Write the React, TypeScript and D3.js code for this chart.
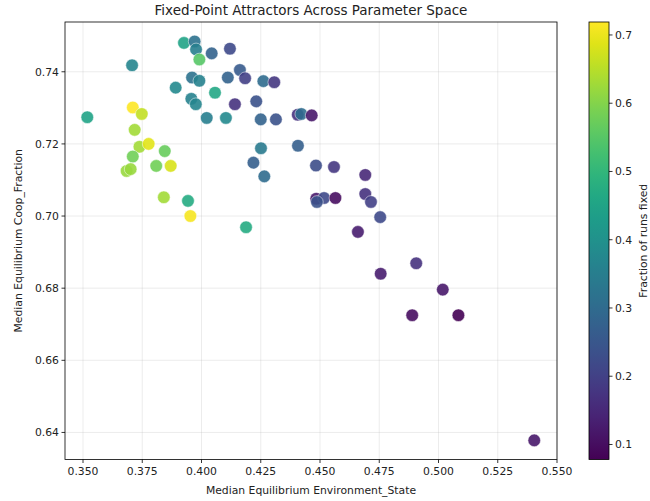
import React from "react";
import * as d3 from "d3";

// median equilibrium environment state (x)
const envState = [
  0.3926, 0.3971, 0.3977, 0.4043, 0.4120, 0.3991, 0.3707, 0.4162, 0.4184, 0.3960,
  0.3991, 0.4111, 0.4261, 0.4307, 0.3891, 0.4057, 0.3957, 0.3976, 0.4141, 0.4231,
  0.4022, 0.4103, 0.4250, 0.4314, 0.4406, 0.4421, 0.4465, 0.3518, 0.3710, 0.3748,
  0.3718, 0.3738, 0.3777, 0.3845, 0.3710, 0.3684, 0.3701, 0.3809, 0.3870, 0.3841,
  0.3943, 0.3953, 0.4188, 0.4251, 0.4407, 0.4219, 0.4265, 0.4483, 0.4559, 0.4691,
  0.4484, 0.4517, 0.4565, 0.4487, 0.4691, 0.4715, 0.4754, 0.4660, 0.4906, 0.4756,
  0.5018, 0.4889, 0.5084, 0.5404,
];

// median equilibrium coop fraction (y)
const coopFraction = [
  0.7480, 0.7484, 0.7462, 0.7451, 0.7464, 0.7434, 0.7418, 0.7405, 0.7382, 0.7384,
  0.7375, 0.7384, 0.7374, 0.7371, 0.7356, 0.7342, 0.7325, 0.7310, 0.7310, 0.7318,
  0.7272, 0.7272, 0.7268, 0.7268, 0.7281, 0.7283, 0.7279, 0.7274, 0.7301, 0.7283,
  0.7239, 0.7192, 0.7200, 0.7180, 0.7165, 0.7125, 0.7130, 0.7139, 0.7139, 0.7052,
  0.7042, 0.7000, 0.6969, 0.7188, 0.7195, 0.7148, 0.7110, 0.7140, 0.7136, 0.7114,
  0.7048, 0.7050, 0.7050, 0.7039, 0.7061, 0.7039, 0.6997, 0.6956, 0.6869, 0.6840,
  0.6796, 0.6725, 0.6725, 0.6378,
];

// fraction of runs that reached a fixed point (colour)
const fractionFixed = [
  0.45, 0.32, 0.35, 0.28, 0.22, 0.55, 0.37, 0.26, 0.20, 0.32,
  0.36, 0.28, 0.30, 0.18, 0.38, 0.46, 0.36, 0.37, 0.17, 0.24,
  0.35, 0.38, 0.28, 0.24, 0.17, 0.30, 0.12, 0.45, 0.719, 0.66,
  0.63, 0.63, 0.69, 0.57, 0.58, 0.62, 0.62, 0.58, 0.68, 0.63,
  0.47, 0.71, 0.47, 0.34, 0.27, 0.27, 0.30, 0.23, 0.18, 0.15,
  0.12, 0.22, 0.10, 0.24, 0.17, 0.20, 0.22, 0.13, 0.17, 0.13,
  0.12, 0.10, 0.078, 0.12,
];

const xTicks = [0.35, 0.375, 0.4, 0.425, 0.45, 0.475, 0.5, 0.525, 0.55];
const yTicks = [0.64, 0.66, 0.68, 0.7, 0.72, 0.74];
const cTicks = [0.1, 0.2, 0.3, 0.4, 0.5, 0.6, 0.7];

const W = 650;
const H = 501;
const plot = { left: 65, right: 557, top: 22, bottom: 459.5 };
const bar = { left: 589, right: 609 };
const font = "'DejaVu Sans', sans-serif";

export default function App() {
  const x = d3.scaleLinear().domain([0.3424, 0.55]).range([plot.left, plot.right]);
  const y = d3.scaleLinear().domain([0.6325, 0.7538]).range([plot.bottom, plot.top]);
  const cmin = d3.min(fractionFixed) as number;
  const cmax = d3.max(fractionFixed) as number;
  const color = d3.scaleSequential(d3.interpolateViridis).domain([cmin, cmax]);
  const cy = d3.scaleLinear().domain([cmin, cmax]).range([plot.bottom, plot.top]);

  const points = envState.map((v, i) => ({ x: v, y: coopFraction[i], c: fractionFixed[i] }));
  const stops = d3.range(0, 1.0001, 0.05);
  const midX = (plot.left + plot.right) / 2;
  const midY = (plot.top + plot.bottom) / 2;

  return (
    <svg width={W} height={H} style={{ position: "absolute", left: 0, top: 0, background: "white" }}
      fontFamily={font}>
      <defs>
        <linearGradient id="viridis" x1="0" y1="1" x2="0" y2="0">
          {stops.map((t, i) => (
            <stop key={i} offset={t} stopColor={d3.interpolateViridis(t)} />
          ))}
        </linearGradient>
      </defs>

      <text x={midX} y={15} textAnchor="middle" fontSize="13.5" fill="#222">
        Fixed-Point Attractors Across Parameter Space
      </text>

      {/* grid */}
      {xTicks.map((t) => (
        <line key={"gx" + t} x1={x(t)} x2={x(t)} y1={plot.top} y2={plot.bottom}
          stroke="#b0b0b0" strokeOpacity={0.3} strokeWidth={0.8} />
      ))}
      {yTicks.map((t) => (
        <line key={"gy" + t} x1={plot.left} x2={plot.right} y1={y(t)} y2={y(t)}
          stroke="#b0b0b0" strokeOpacity={0.3} strokeWidth={0.8} />
      ))}

      {/* points */}
      {points.map((p, i) => (
        <circle key={i} cx={x(p.x)} cy={y(p.y)} r={6.3} fill={color(p.c)} fillOpacity={0.9}
          stroke="white" strokeWidth={0.5} />
      ))}

      {/* frame */}
      <rect x={plot.left} y={plot.top} width={plot.right - plot.left} height={plot.bottom - plot.top}
        fill="none" stroke="#000" strokeWidth={0.8} />

      {/* x axis */}
      {xTicks.map((t) => (
        <g key={"xt" + t}>
          <line x1={x(t)} x2={x(t)} y1={plot.bottom} y2={plot.bottom + 3.5} stroke="#000" strokeWidth={0.8} />
          <text x={x(t)} y={plot.bottom + 15} textAnchor="middle" fontSize="10.8" fill="#222">
            {d3.format(".3f")(t)}
          </text>
        </g>
      ))}
      <text x={midX} y={494} textAnchor="middle" fontSize="10.8" fill="#222">
        Median Equilibrium Environment_State
      </text>

      {/* y axis */}
      {yTicks.map((t) => (
        <g key={"yt" + t}>
          <line x1={plot.left - 3.5} x2={plot.left} y1={y(t)} y2={y(t)} stroke="#000" strokeWidth={0.8} />
          <text x={plot.left - 6} y={y(t) + 3.8} textAnchor="end" fontSize="10.8" fill="#222">
            {d3.format(".2f")(t)}
          </text>
        </g>
      ))}
      <text transform={`translate(22,${midY}) rotate(-90)`} textAnchor="middle" fontSize="10.8" fill="#222">
        Median Equilibrium Coop_Fraction
      </text>

      {/* colorbar */}
      <rect x={bar.left} y={plot.top} width={bar.right - bar.left} height={plot.bottom - plot.top}
        fill="url(#viridis)" stroke="#000" strokeWidth={0.8} />
      {cTicks.map((t) => (
        <g key={"ct" + t}>
          <line x1={bar.right} x2={bar.right + 3.5} y1={cy(t)} y2={cy(t)} stroke="#000" strokeWidth={0.8} />
          <text x={bar.right + 6} y={cy(t) + 3.8} fontSize="10.8" fill="#222">
            {d3.format(".1f")(t)}
          </text>
        </g>
      ))}
      <text transform={`translate(647,${midY}) rotate(-90)`} textAnchor="middle" fontSize="10.8" fill="#222">
        Fraction of runs fixed
      </text>
    </svg>
  );
}
